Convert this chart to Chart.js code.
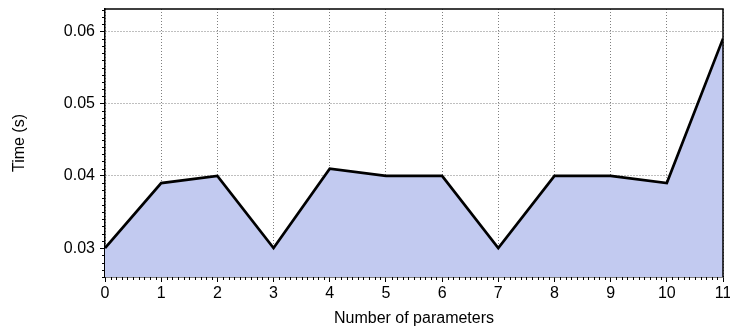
<!DOCTYPE html>
<html><head><meta charset="utf-8">
<script src="https://cdn.jsdelivr.net/npm/chart.js@4"></script>
<style>html,body{margin:0;padding:0;background:#fff}#wrap{width:730px;height:333px;position:relative}</style>
</head><body><div id="wrap"><canvas id="c"></canvas></div>
<script>
const params = [0, 1, 2, 3, 4, 5, 6, 7, 8, 9, 10, 11];
const times = [0.030, 0.039, 0.040, 0.030, 0.041, 0.040, 0.040, 0.030, 0.040, 0.040, 0.039, 0.059];
const xTicks = [0, 1, 2, 3, 4, 5, 6, 7, 8, 9, 10, 11];
const yTicks = [0.03, 0.04, 0.05, 0.06];
const xRange = [0, 11];
const yRange = [0.026, 0.0631];
const xMinorStep = 0.1;
const yMinorStep = 0.001;

const FONT = {family: '"Liberation Sans", Arial, Helvetica, sans-serif', size: 16};

const minorTicks = {
  id: 'minorTicks',
  afterDraw(chart) {
    const ctx = chart.ctx, ca = chart.chartArea;
    const xs = chart.scales.x, ys = chart.scales.y;
    ctx.save();
    ctx.strokeStyle = '#000';
    ctx.lineWidth = 1;
    ctx.beginPath();
    const nx = Math.round((xRange[1] - xRange[0]) / xMinorStep);
    for (let i = 0; i <= nx; i++) {
      if (i % 10 === 0) continue;
      const px = Math.round(xs.getPixelForValue(xRange[0] + i * xMinorStep)) + 0.5;
      ctx.moveTo(px, ca.bottom);
      ctx.lineTo(px, ca.bottom + 3);
    }
    const y0 = Math.ceil(yRange[0] / yMinorStep - 1e-6), y1 = Math.floor(yRange[1] / yMinorStep + 1e-6);
    for (let i = y0; i <= y1; i++) {
      if (i % 10 === 0) continue;
      const py = Math.round(ys.getPixelForValue(i * yMinorStep)) + 0.5;
      ctx.moveTo(ca.left, py);
      ctx.lineTo(ca.left - 3, py);
    }
    ctx.stroke();
    ctx.beginPath();
    ctx.lineWidth = 1.5;
    ctx.moveTo(ca.left, ca.top);
    ctx.lineTo(ca.right, ca.top);
    ctx.lineTo(ca.right, ca.bottom);
    ctx.stroke();
    ctx.restore();
  }
};

new Chart(document.getElementById('c'), {
  type: 'line',
  data: {
    datasets: [{
      data: params.map((p, i) => ({x: p, y: times[i]})),
      borderColor: '#000',
      borderWidth: 2.7,
      backgroundColor: '#c2caf0',
      fill: 'start',
      pointRadius: 0,
      tension: 0
    }]
  },
  options: {
    responsive: true,
    maintainAspectRatio: false,
    animation: false,
    devicePixelRatio: 1,
    layout: {padding: {top: 9, right: 7, left: 0, bottom: 0}},
    plugins: {legend: {display: false}, tooltip: {enabled: false}},
    scales: {
      x: {
        type: 'linear', min: xRange[0], max: xRange[1], z: 1,
        afterBuildTicks: s => { s.ticks = xTicks.map(v => ({value: v})); },
        afterFit: s => { s.height = 56; s.paddingLeft = 0; s.paddingRight = 0; },
        ticks: {color: '#000', font: FONT, padding: 2, maxRotation: 0, autoSkip: false, callback: v => String(v)},
        grid: {color: 'rgba(0,0,0,0.5)', lineWidth: 1, tickColor: '#000', tickLength: 5, tickBorderDash: []},
        border: {color: '#000', width: 1.5, dash: [1, 2]},
        title: {display: true, text: 'Number of parameters', color: '#000', font: FONT, padding: {top: 0, bottom: 5}}
      },
      y: {
        type: 'linear', min: yRange[0], max: yRange[1], z: 1,
        afterBuildTicks: s => { s.ticks = yTicks.map(v => ({value: v})); },
        afterFit: s => { s.width = 105; s.paddingTop = 0; s.paddingBottom = 0; },
        ticks: {color: '#000', font: FONT, padding: 5, callback: v => v.toFixed(2)},
        grid: {color: 'rgba(0,0,0,0.5)', lineWidth: 1, tickColor: '#000', tickLength: 5, tickBorderDash: []},
        border: {color: '#000', width: 1.5, dash: [1, 2]},
        title: {display: true, text: 'Time (s)', color: '#000', font: FONT, padding: {top: 10, bottom: 0}}
      }
    }
  },
  plugins: [minorTicks]
});
</script>
</body></html>
